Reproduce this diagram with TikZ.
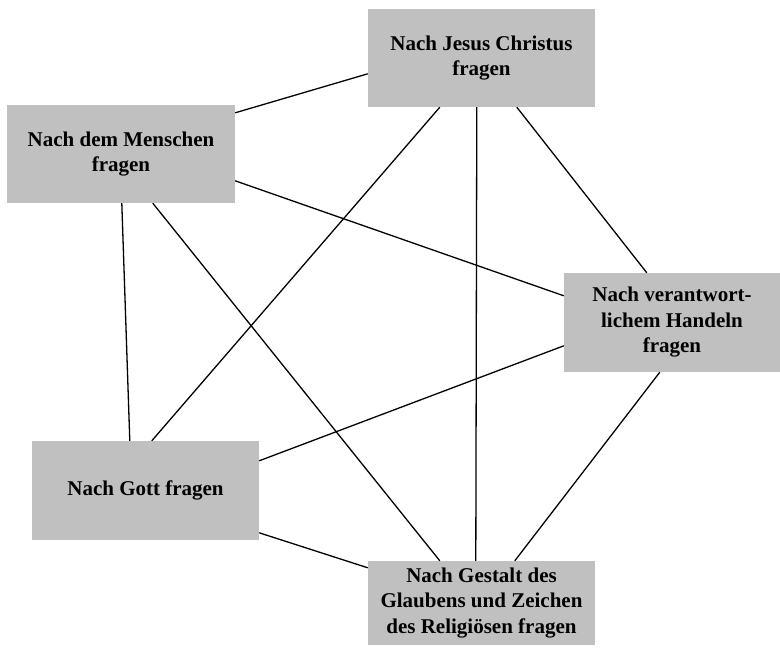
\documentclass[tikz,border=0pt]{standalone}
\usepackage{fontspec}
\setmainfont{Liberation Serif}
\usetikzlibrary{calc}
\definecolor{boxgray}{RGB}{192,192,192}
\tikzset{
  topic/.style={fill=boxgray, draw=none, inner sep=0pt, align=center,
    font=\fontsize{21}{25.5}\selectfont\bfseries, text=black},
  link/.style={draw=black, line width=1.3pt}
}
\begin{document}
\begin{tikzpicture}[x=1pt,y=-1pt]
\useasboundingbox (0,0) rectangle (780,655);
\node[topic, minimum width=227pt, minimum height=98pt] (J) at (481.5,58) {Nach Jesus Christus\\fragen};
\node[topic, minimum width=228pt, minimum height=98pt] (M) at (121,154) {Nach dem Menschen\\fragen};
\node[topic, minimum width=216pt, minimum height=99pt] (H) at (672,322.5) {Nach verantwort-\\lichem Handeln\\fragen};
\node[topic, minimum width=227pt, minimum height=99pt] (G) at (145.5,490.5) {Nach Gott fragen};
\node[topic, minimum width=227pt, minimum height=84pt] (S) at (481.5,603) {Nach Gestalt des\\Glaubens und Zeichen\\des Religiösen fragen};
% connectors
\draw[link] ($(M.north east)+(0,8)$) -- ($(J.north west)+(0,65)$);
\draw[link] ($(M.north east)+(0,76)$) -- ($(H.north west)+(0,23)$);
\draw[link] ($(M.south west)+(115,0)$) -- ($(G.north west)+(98,0)$);
\draw[link] ($(M.south west)+(146,0)$) -- ($(S.north west)+(72,0)$);
\draw[link] ($(J.south west)+(72,0)$) -- ($(G.north west)+(120,0)$);
\draw[link] ($(J.south west)+(109,0)$) -- ($(S.north west)+(108,0)$);
\draw[link] ($(J.south west)+(149,0)$) -- ($(H.north west)+(83,0)$);
\draw[link] ($(H.north west)+(0,73)$) -- ($(G.north east)+(0,20)$);
\draw[link] ($(H.south west)+(96,0)$) -- ($(S.north west)+(147,0)$);
\draw[link] ($(G.north east)+(0,92)$) -- ($(S.north west)+(0,7)$);
\end{tikzpicture}
\end{document}
